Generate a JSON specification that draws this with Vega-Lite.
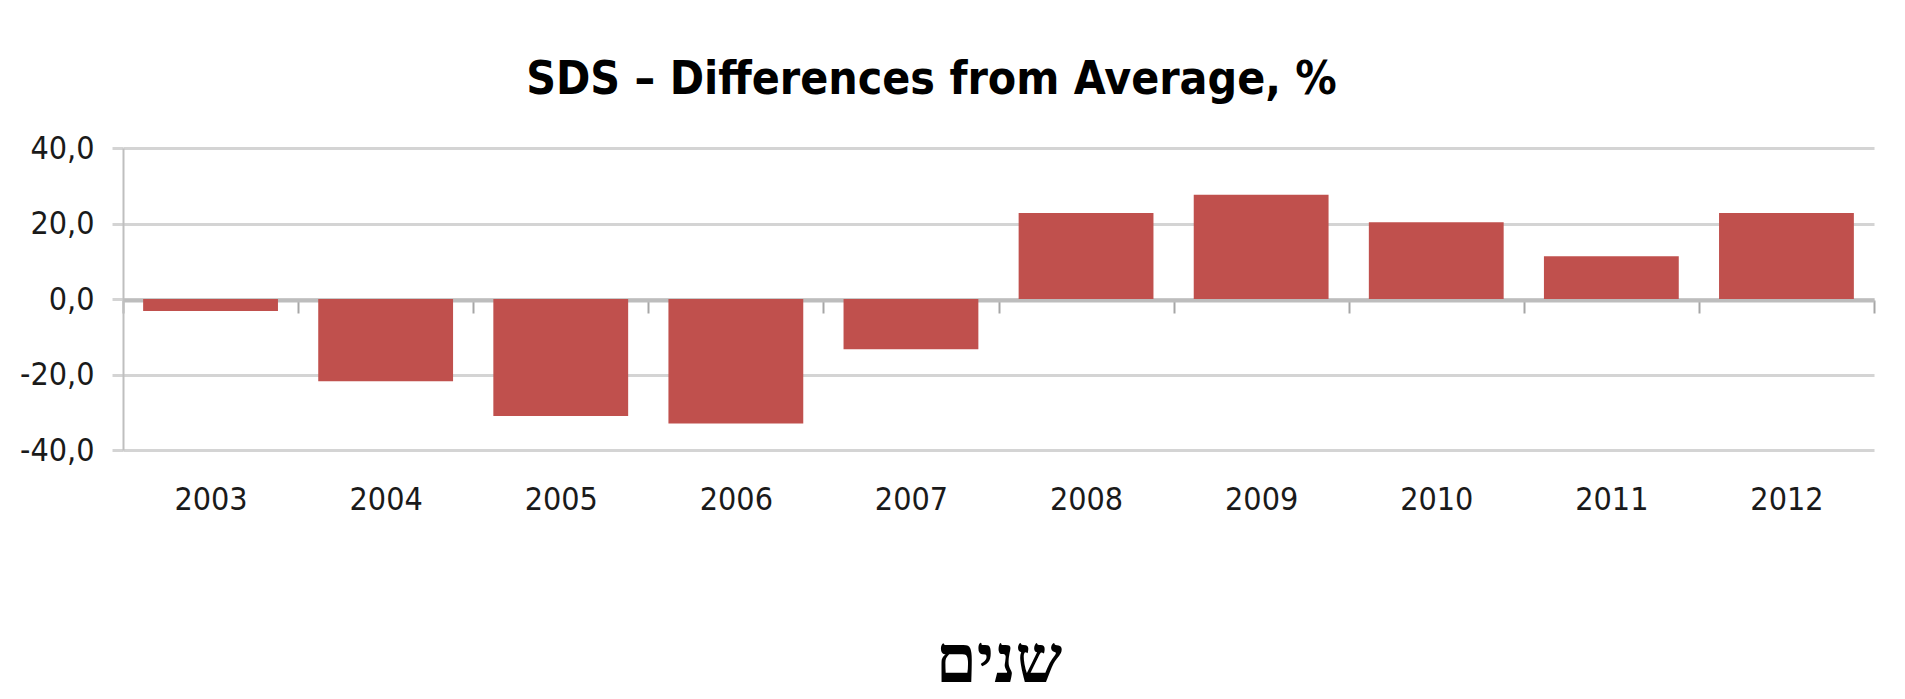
{
  "$schema": "https://vega.github.io/schema/vega-lite/v6.json",
  "autosize": {"type": "none"},
  "width": 1751,
  "height": 302,
  "padding": {"left": 123, "top": 148, "right": 31, "bottom": 249},
  "background": "white",
  "title": {
    "text": "SDS – Differences from Average, %",
    "font": "DejaVu Sans Condensed, sans-serif",
    "fontSize": 46,
    "fontWeight": "bold",
    "color": "#000000",
    "anchor": "middle",
    "frame": "group",
    "dx": -67,
    "offset": 28
  },
  "data": {
    "values": [
      {"year": "2003", "value": -3.2},
      {"year": "2004", "value": -21.8},
      {"year": "2005", "value": -31.0},
      {"year": "2006", "value": -33.0},
      {"year": "2007", "value": -13.3},
      {"year": "2008", "value": 22.8},
      {"year": "2009", "value": 27.6},
      {"year": "2010", "value": 20.3},
      {"year": "2011", "value": 11.3},
      {"year": "2012", "value": 22.8}
    ]
  },
  "mark": {"type": "bar", "color": "#c0504d", "width": {"band": 0.77}},
  "encoding": {
    "x": {
      "field": "year",
      "type": "ordinal",
      "scale": {"paddingInner": 0, "paddingOuter": 0},
      "axis": {
        "orient": "bottom",
        "offset": -150,
        "labelAngle": 0,
        "domainColor": "#bdbdbd",
        "domainWidth": 4,
        "tickBand": "extent",
        "tickColor": "#a6a6a6",
        "tickWidth": 2,
        "tickSize": 13,
        "labelFont": "DejaVu Sans Condensed, sans-serif",
        "labelFontSize": 32,
        "labelColor": "#1a1a1a",
        "labelPadding": 171,
        "title": "שנים",
        "titleFont": "Liberation Serif, DejaVu Serif, serif",
        "titleFontSize": 66,
        "titleFontWeight": "bold",
        "titleColor": "#000000",
        "titlePadding": 129,
        "grid": false
      }
    },
    "y": {
      "field": "value",
      "type": "quantitative",
      "scale": {"domain": [-40, 40], "nice": false, "zero": true},
      "axis": {
        "values": [-40, -20, 0, 20, 40],
        "labelExpr": "replace(replace(format(datum.value, '.1f'), '.', ','), '−', '-')",
        "title": null,
        "domainColor": "#bfbfbf",
        "domainWidth": 2,
        "grid": true,
        "gridColor": "#d4d4d4",
        "gridWidth": 3,
        "tickColor": "#d4d4d4",
        "tickWidth": 3,
        "tickSize": 11,
        "labelPadding": 18,
        "labelFont": "DejaVu Sans Condensed, sans-serif",
        "labelFontSize": 32,
        "labelColor": "#1a1a1a"
      }
    }
  },
  "config": {"view": {"stroke": null}}
}
